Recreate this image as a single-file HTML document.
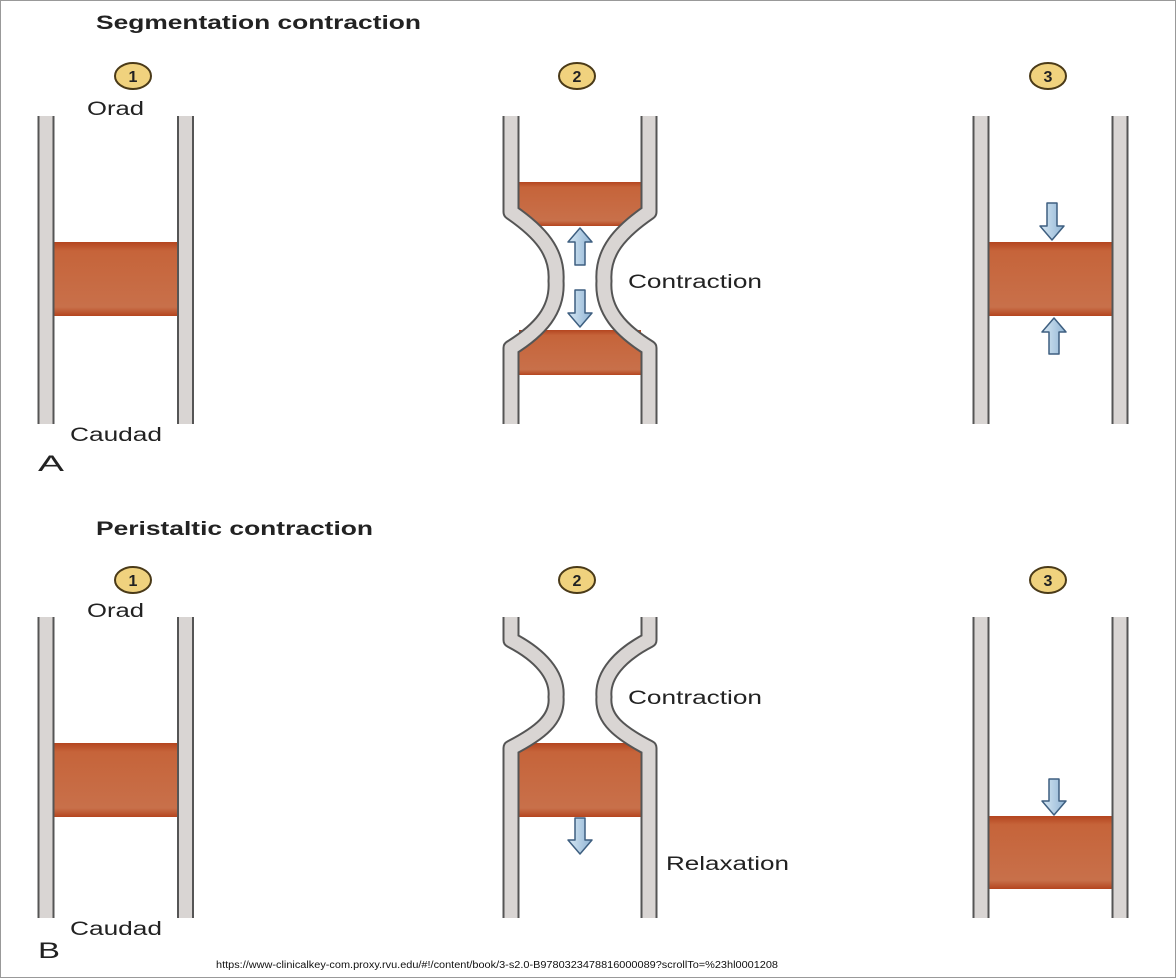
<!DOCTYPE html>
<html><head><meta charset="utf-8">
<style>
html,body{margin:0;padding:0;background:#fff;}
svg{display:block;font-family:"Liberation Sans",Arial,sans-serif;}
</style></head>
<body>
<svg width="1176" height="978" viewBox="0 0 1176 978">
<defs>
<linearGradient id="bol" x1="0" y1="0" x2="0" y2="1">
<stop offset="0" stop-color="#b4451f"/><stop offset="0.12" stop-color="#c6643a"/><stop offset="0.88" stop-color="#c8704a"/><stop offset="1" stop-color="#b4451f"/>
</linearGradient>
<linearGradient id="arr" x1="0" y1="0" x2="1" y2="0">
<stop offset="0" stop-color="#d8e8f4"/><stop offset="1" stop-color="#8fb4d4"/>
</linearGradient>
</defs>
<rect x="0.5" y="0.5" width="1175" height="977" fill="#fff" stroke="#999"/>

<text x="96" y="29" font-size="19" font-weight="bold" fill="#222" textLength="325" lengthAdjust="spacingAndGlyphs">Segmentation contraction</text>
<text x="96" y="535" font-size="19" font-weight="bold" fill="#222" textLength="277" lengthAdjust="spacingAndGlyphs">Peristaltic contraction</text>

<g font-size="16" font-weight="bold" text-anchor="middle" fill="#222">
<g><ellipse cx="133" cy="76" rx="18" ry="13" fill="#f0d27e" stroke="#4a3a18" stroke-width="2"/><text x="133" y="82">1</text></g>
<g><ellipse cx="577" cy="76" rx="18" ry="13" fill="#f0d27e" stroke="#4a3a18" stroke-width="2"/><text x="577" y="82">2</text></g>
<g><ellipse cx="1048" cy="76" rx="18" ry="13" fill="#f0d27e" stroke="#4a3a18" stroke-width="2"/><text x="1048" y="82">3</text></g>
<g><ellipse cx="133" cy="580" rx="18" ry="13" fill="#f0d27e" stroke="#4a3a18" stroke-width="2"/><text x="133" y="586">1</text></g>
<g><ellipse cx="577" cy="580" rx="18" ry="13" fill="#f0d27e" stroke="#4a3a18" stroke-width="2"/><text x="577" y="586">2</text></g>
<g><ellipse cx="1048" cy="580" rx="18" ry="13" fill="#f0d27e" stroke="#4a3a18" stroke-width="2"/><text x="1048" y="586">3</text></g>
</g>

<g font-size="19" fill="#222" lengthAdjust="spacingAndGlyphs">
<text x="87" y="115" textLength="57" lengthAdjust="spacingAndGlyphs">Orad</text>
<text x="70" y="441" textLength="92" lengthAdjust="spacingAndGlyphs">Caudad</text>
<text x="38" y="471" font-size="22" textLength="26" lengthAdjust="spacingAndGlyphs">A</text>
<text x="628" y="288" textLength="134" lengthAdjust="spacingAndGlyphs">Contraction</text>
<text x="87" y="617" textLength="57" lengthAdjust="spacingAndGlyphs">Orad</text>
<text x="70" y="935" textLength="92" lengthAdjust="spacingAndGlyphs">Caudad</text>
<text x="38" y="958" font-size="22" textLength="22" lengthAdjust="spacingAndGlyphs">B</text>
<text x="628" y="704" textLength="134" lengthAdjust="spacingAndGlyphs">Contraction</text>
<text x="666" y="870" textLength="123" lengthAdjust="spacingAndGlyphs">Relaxation</text>
</g>
<text x="216" y="968" font-size="10" fill="#111" textLength="562" lengthAdjust="spacingAndGlyphs">https://www-clinicalkey-com.proxy.rvu.edu/#!/content/book/3-s2.0-B9780323478816000089?scrollTo=%23hl0001208</text>

<rect x="54" y="242" width="124" height="74" fill="url(#bol)"/>
<rect x="519" y="182" width="122" height="44" fill="url(#bol)"/>
<rect x="519" y="330" width="122" height="45" fill="url(#bol)"/>
<rect x="989" y="242" width="123" height="74" fill="url(#bol)"/>
<rect x="54" y="743" width="124" height="74" fill="url(#bol)"/>
<rect x="519" y="743" width="122" height="74" fill="url(#bol)"/>
<rect x="989" y="816" width="123" height="73" fill="url(#bol)"/>

<g fill="none" stroke-linejoin="round">
<g stroke="#555" stroke-width="17">
<path d="M46 116V424M185.5 116V424"/>
<path d="M511 116V212C540 232 558 252 556 281C558 310 540 330 511 348V424"/>
<path d="M649 116V212C620 232 602 252 604 281C602 310 620 330 649 348V424"/>
<path d="M981 116V424M1120 116V424"/>
<path d="M46 617V918M185.5 617V918"/>
<path d="M511 617V640C540 655 558 675 556 697C558 719 540 733 511 748V918"/>
<path d="M649 617V640C620 655 602 675 604 697C602 719 620 733 649 748V918"/>
<path d="M981 617V918M1120 617V918"/>
</g>
<g stroke="#d9d5d3" stroke-width="13">
<path d="M46 116V424M185.5 116V424"/>
<path d="M511 116V212C540 232 558 252 556 281C558 310 540 330 511 348V424"/>
<path d="M649 116V212C620 232 602 252 604 281C602 310 620 330 649 348V424"/>
<path d="M981 116V424M1120 116V424"/>
<path d="M46 617V918M185.5 617V918"/>
<path d="M511 617V640C540 655 558 675 556 697C558 719 540 733 511 748V918"/>
<path d="M649 617V640C620 655 602 675 604 697C602 719 620 733 649 748V918"/>
<path d="M981 617V918M1120 617V918"/>
</g>
</g>

<g fill="url(#arr)" stroke="#3e5f80" stroke-width="1.5" stroke-linejoin="round">
<path d="M580 228L592 242H585V265H575V242H568Z"/>
<path d="M580 327L592 313H585V290H575V313H568Z"/>
<path d="M1052 240L1064 226H1057V203H1047V226H1040Z"/>
<path d="M1054 318L1066 332H1059V354H1049V332H1042Z"/>
<path d="M580 854L592 840H585V818H575V840H568Z"/>
<path d="M1054 815L1066 801H1059V779H1049V801H1042Z"/>
</g>
</svg>
</body></html>
